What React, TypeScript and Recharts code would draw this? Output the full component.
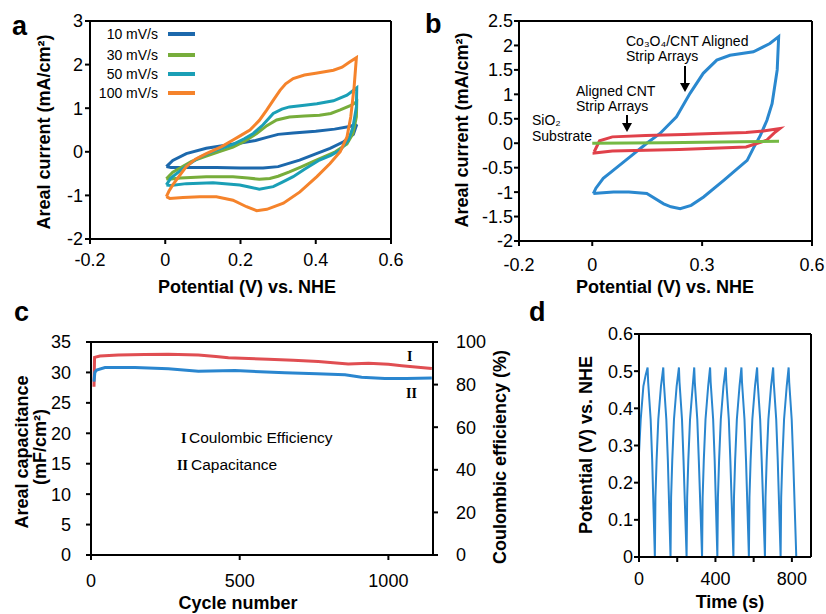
import React from 'react';
import { LineChart, Line, XAxis, YAxis, ReferenceLine } from 'recharts';

const FONT = '"Liberation Sans", Arial, Helvetica, sans-serif';
const SERIF = '"Liberation Serif", "Times New Roman", serif';

// ---------- Panel a : CV at several scan rates ----------
const aTicksX = [-0.2, 0, 0.2, 0.4, 0.6];
const aTicksY = [-2, -1, 0, 1, 2, 3];
const aNames = ['10 mV/s', '30 mV/s', '50 mV/s', '100 mV/s'];

const a10X = [0.003, 0.02, 0.056, 0.109, 0.16, 0.2, 0.24, 0.27, 0.3, 0.34, 0.4, 0.45, 0.49, 0.505, 0.508, 0.5, 0.474, 0.438, 0.4, 0.357, 0.3, 0.26, 0.2, 0.136, 0.06, 0.015, 0.003];
const a10Y = [-0.34, -0.2, -0.04, 0.08, 0.15, 0.2, 0.26, 0.33, 0.4, 0.43, 0.47, 0.52, 0.58, 0.62, 0.6, 0.4, 0.23, 0.08, -0.05, -0.19, -0.34, -0.37, -0.37, -0.36, -0.36, -0.36, -0.34];

const a30X = [0.003, 0.02, 0.038, 0.07, 0.109, 0.15, 0.18, 0.21, 0.243, 0.27, 0.296, 0.33, 0.37, 0.41, 0.44, 0.465, 0.495, 0.509, 0.508, 0.499, 0.483, 0.452, 0.42, 0.394, 0.36, 0.33, 0.3, 0.278, 0.25, 0.22, 0.18, 0.109, 0.04, 0.01, 0.003];
const a30Y = [-0.62, -0.47, -0.38, -0.22, -0.1, 0.02, 0.11, 0.24, 0.42, 0.6, 0.73, 0.8, 0.82, 0.84, 0.88, 0.96, 1.07, 1.15, 0.8, 0.42, 0.18, 0, -0.12, -0.22, -0.35, -0.46, -0.56, -0.61, -0.63, -0.6, -0.57, -0.57, -0.6, -0.63, -0.62];

const a50X = [0.003, 0.015, 0.03, 0.06, 0.09, 0.13, 0.18, 0.21, 0.234, 0.26, 0.287, 0.31, 0.33, 0.37, 0.403, 0.447, 0.483, 0.509, 0.508, 0.499, 0.487, 0.465, 0.44, 0.41, 0.37, 0.34, 0.31, 0.287, 0.25, 0.22, 0.198, 0.127, 0.056, 0.015, 0.003];
const a50Y = [-0.76, -0.6, -0.5, -0.3, -0.13, 0.02, 0.17, 0.3, 0.42, 0.62, 0.88, 0.98, 1.03, 1.07, 1.1, 1.17, 1.3, 1.47, 1.03, 0.57, 0.27, 0.04, -0.08, -0.19, -0.4, -0.57, -0.7, -0.8, -0.86, -0.8, -0.76, -0.71, -0.73, -0.77, -0.76];

const a100X = [0.003, 0.01, 0.02, 0.035, 0.056, 0.08, 0.109, 0.15, 0.18, 0.2, 0.225, 0.25, 0.27, 0.29, 0.305, 0.32, 0.34, 0.37, 0.4, 0.447, 0.47, 0.49, 0.508, 0.502, 0.493, 0.483, 0.465, 0.438, 0.403, 0.358, 0.314, 0.27, 0.243, 0.216, 0.18, 0.136, 0.092, 0.047, 0.012, 0.003];
const a100Y = [-1.03, -0.9, -0.76, -0.58, -0.34, -0.17, -0.04, 0.12, 0.27, 0.37, 0.5, 0.72, 0.96, 1.22, 1.41, 1.56, 1.68, 1.76, 1.8, 1.87, 1.94, 2.06, 2.16, 1.49, 0.8, 0.34, 0, -0.27, -0.57, -0.92, -1.18, -1.32, -1.35, -1.26, -1.11, -1.03, -1.03, -1.05, -1.07, -1.03];

// ---------- Panel b : electrode comparison ----------
const bTicksX = [-0.2, 0, 0.3, 0.6];
const bTicksY = [-2, -1.5, -1, -0.5, 0, 0.5, 1, 1.5, 2, 2.5];

const bCoX = [0.003, 0.01, 0.03, 0.058, 0.103, 0.149, 0.185, 0.23, 0.267, 0.303, 0.34, 0.376, 0.44, 0.485, 0.509, 0.505, 0.491, 0.477, 0.459, 0.44, 0.423, 0.39, 0.359, 0.304, 0.27, 0.24, 0.215, 0.195, 0.149, 0.1, 0.058, 0.02, 0.003];
const bCoY = [-1.03, -0.92, -0.72, -0.55, -0.28, 0, 0.2, 0.54, 1.02, 1.43, 1.7, 1.8, 1.87, 2.04, 2.18, 1.5, 0.81, 0.47, 0.16, -0.1, -0.35, -0.56, -0.76, -1.1, -1.27, -1.34, -1.3, -1.24, -1.03, -1.0, -1.0, -1.02, -1.03];

const bCntX = [0.005, 0.02, 0.055, 0.146, 0.25, 0.33, 0.42, 0.467, 0.512, 0.5, 0.476, 0.42, 0.238, 0.055, 0.005, 0.005];
const bCntY = [-0.18, 0.05, 0.13, 0.16, 0.18, 0.2, 0.22, 0.25, 0.3, 0.23, 0.06, -0.075, -0.13, -0.16, -0.2, -0.18];

const bSiX = [0, 0.1, 0.2, 0.3, 0.4, 0.51];
const bSiY = [0, 0.005, 0.01, 0.02, 0.03, 0.04];

// ---------- Panel c : cycling ----------
const cTicksX = [0, 500, 1000];
const cTicksLeft = [0, 5, 10, 15, 20, 25, 30, 35];
const cTicksRight = [0, 20, 40, 60, 80, 100];
const cEffCycle = [10, 12, 30, 92, 180, 260, 361, 420, 462, 530, 596, 680, 764, 865, 933, 1000, 1045, 1100, 1146];
const cEffValue = [79, 92.8, 93.4, 93.9, 94.1, 94.2, 93.9, 93.2, 92.6, 92.2, 91.9, 91.4, 90.8, 89.7, 90.0, 89.5, 88.9, 88.2, 87.6];
const cCapCycle = [10, 13, 19, 47, 148, 260, 361, 484, 652, 760, 854, 910, 988, 1060, 1146];
const cCapValue = [28.5, 30.0, 30.4, 30.8, 30.8, 30.6, 30.2, 30.3, 29.95, 29.8, 29.6, 29.2, 29.0, 29.0, 29.1];

// ---------- Panel d : galvanostatic charge/discharge ----------
const dTicksX = [0, 200, 400, 600, 800];
const dTickLabelsX = ['0', '', '400', '', '800'];
const dTicksY = [0, 0.1, 0.2, 0.3, 0.4, 0.5, 0.6];
const dTime = [
  0, 9, 23, 35, 45,
  48, 61, 69, 83, 86, 92, 101, 115, 127,
  130, 143, 151, 165, 168, 174, 183, 197, 209,
  212, 225, 233, 249, 252, 258, 267, 281, 289,
  292, 305, 313, 330, 333, 339, 348, 362, 372,
  375, 388, 396, 410, 413, 419, 428, 442, 454,
  457, 470, 478, 494, 497, 503, 512, 526, 536,
  539, 552, 560, 575, 578, 584, 593, 607, 618,
  621, 634, 642, 659, 662, 668, 677, 691, 702,
  705, 718, 726, 741, 744, 750, 759, 773, 783,
  786, 799, 807, 823,
];
const dPotential = [
  0.28, 0.37, 0.46, 0.49, 0.51,
  0.47, 0.37, 0.26, 0, 0.16, 0.26, 0.37, 0.46, 0.51,
  0.47, 0.37, 0.26, 0, 0.16, 0.26, 0.37, 0.46, 0.51,
  0.47, 0.37, 0.26, 0, 0.16, 0.26, 0.37, 0.46, 0.51,
  0.47, 0.37, 0.26, 0, 0.16, 0.26, 0.37, 0.46, 0.51,
  0.47, 0.37, 0.26, 0, 0.16, 0.26, 0.37, 0.46, 0.51,
  0.47, 0.37, 0.26, 0, 0.16, 0.26, 0.37, 0.46, 0.51,
  0.47, 0.37, 0.26, 0, 0.16, 0.26, 0.37, 0.46, 0.51,
  0.47, 0.37, 0.26, 0, 0.16, 0.26, 0.37, 0.46, 0.51,
  0.47, 0.37, 0.26, 0, 0.16, 0.26, 0.37, 0.46, 0.51,
  0.47, 0.37, 0.26, 0,
];

// ---------- styles ----------
const aColors = ['#1c68ac', '#77ad3b', '#1a9fb6', '#f5832b'];
const bColors = { co: '#2a88cf', cnt: '#e0414a', si: '#75b944' };
const cColors = { eff: '#e04e52', cap: '#2a86cf' };
const dColor = '#2a86cf';

const pts = (xs: number[], ys: number[]) => xs.map((x, i) => ({ x, y: ys[i] }));

const axisLine = { stroke: '#000', strokeWidth: 2 };
const tickLine = { stroke: '#000', strokeWidth: 2 };
const tickStyle = { fill: '#000', fontSize: 18, fontFamily: FONT };

const aSeries = [
  { name: aNames[0], data: pts(a10X, a10Y), color: aColors[0] },
  { name: aNames[1], data: pts(a30X, a30Y), color: aColors[1] },
  { name: aNames[2], data: pts(a50X, a50Y), color: aColors[2] },
  { name: aNames[3], data: pts(a100X, a100Y), color: aColors[3] },
];

const legendRowsY = [34, 55, 74, 93];

export default function App() {
  const boldTitle = { fontFamily: FONT, fontWeight: 700, fontSize: 18, fill: '#000' } as const;
  return (
    <div style={{ position: 'absolute', left: 0, top: 0, width: 826, height: 614, background: '#fff', overflow: 'hidden' }}>
      {/* Panel a */}
      <div style={{ position: 'absolute', left: 0, top: 0 }}>
        <LineChart width={413} height={300} margin={{ top: 21, right: 22, bottom: 31, left: 30 }}>
          <XAxis type="number" dataKey="x" domain={[-0.2, 0.6]} ticks={aTicksX} interval={0}
            axisLine={axisLine} tickLine={tickLine} tick={tickStyle} tickSize={5} tickMargin={9} allowDataOverflow />
          <YAxis type="number" dataKey="y" domain={[-2, 3]} ticks={aTicksY} interval={0}
            axisLine={axisLine} tickLine={tickLine} tick={tickStyle} tickSize={5} tickMargin={2} allowDataOverflow />
          <ReferenceLine y={3} stroke="#000" strokeWidth={2} />
          <ReferenceLine x={0.6} stroke="#000" strokeWidth={2} />
          {aSeries.map((s) => (
            <Line key={s.name} name={s.name} data={s.data} dataKey="y" type="linear" stroke={s.color}
              strokeWidth={3} dot={false} isAnimationActive={false} />
          ))}
        </LineChart>
      </div>

      {/* Panel b */}
      <div style={{ position: 'absolute', left: 413, top: 0 }}>
        <LineChart width={413} height={300} margin={{ top: 21, right: 14, bottom: 29, left: 46 }}>
          <XAxis type="number" dataKey="x" domain={[-0.2, 0.6]} ticks={bTicksX} interval={0}
            axisLine={axisLine} tickLine={tickLine} tick={tickStyle} tickSize={5} tickMargin={12} allowDataOverflow />
          <YAxis type="number" dataKey="y" domain={[-2, 2.5]} ticks={bTicksY} interval={0}
            axisLine={axisLine} tickLine={tickLine} tick={tickStyle} tickSize={5} tickMargin={1} allowDataOverflow />
          <ReferenceLine y={2.5} stroke="#000" strokeWidth={2} />
          <ReferenceLine x={0.6} stroke="#000" strokeWidth={2} />
          <Line name="Co3O4/CNT Aligned Strip Arrays" data={pts(bCoX, bCoY)} dataKey="y" type="linear" stroke={bColors.co}
            strokeWidth={3} dot={false} isAnimationActive={false} />
          <Line name="Aligned CNT Strip Arrays" data={pts(bCntX, bCntY)} dataKey="y" type="linear" stroke={bColors.cnt}
            strokeWidth={3} dot={false} isAnimationActive={false} />
          <Line name="SiO2 Substrate" data={pts(bSiX, bSiY)} dataKey="y" type="linear" stroke={bColors.si}
            strokeWidth={3} dot={false} isAnimationActive={false} />
        </LineChart>
      </div>

      {/* Panel c */}
      <div style={{ position: 'absolute', left: 0, top: 300 }}>
        <LineChart width={520} height={314} margin={{ top: 42, right: 27, bottom: 29, left: 31 }}>
          <XAxis type="number" dataKey="x" domain={[0, 1150]} ticks={cTicksX} interval={0}
            axisLine={axisLine} tickLine={tickLine} tick={tickStyle} tickSize={5} tickMargin={14} allowDataOverflow />
          <YAxis yAxisId="left" type="number" dataKey="y" domain={[0, 35]} ticks={cTicksLeft} interval={0}
            axisLine={axisLine} tickLine={tickLine} tick={tickStyle} tickSize={5} tickMargin={15} allowDataOverflow />
          <YAxis yAxisId="right" orientation="right" type="number" dataKey="y" domain={[0, 100]} ticks={cTicksRight} interval={0}
            axisLine={axisLine} tickLine={tickLine} tick={tickStyle} tickSize={5} tickMargin={18} allowDataOverflow />
          <ReferenceLine yAxisId="left" y={35} stroke="#000" strokeWidth={2} />
          <Line yAxisId="right" name="Coulombic Efficiency" data={pts(cEffCycle, cEffValue)} dataKey="y" type="linear"
            stroke={cColors.eff} strokeWidth={3} dot={false} isAnimationActive={false} />
          <Line yAxisId="left" name="Capacitance" data={pts(cCapCycle, cCapValue)} dataKey="y" type="linear"
            stroke={cColors.cap} strokeWidth={3} dot={false} isAnimationActive={false} />
        </LineChart>
      </div>

      {/* Panel d */}
      <div style={{ position: 'absolute', left: 520, top: 300 }}>
        <LineChart width={306} height={314} margin={{ top: 34, right: 15, bottom: 27, left: 59 }}>
          <XAxis type="number" dataKey="x" domain={[0, 900]} ticks={dTicksX} interval={0}
            tickFormatter={(v: number) => dTickLabelsX[dTicksX.indexOf(v)] ?? ''}
            axisLine={axisLine} tickLine={tickLine} tick={tickStyle} tickSize={5} tickMargin={10} allowDataOverflow />
          <YAxis type="number" dataKey="y" domain={[0, 0.6]} ticks={dTicksY} interval={0}
            axisLine={axisLine} tickLine={tickLine} tick={tickStyle} tickSize={5} tickMargin={1} allowDataOverflow />
          <ReferenceLine y={0.6} stroke="#000" strokeWidth={2} />
          <ReferenceLine x={900} stroke="#000" strokeWidth={2} />
          <Line name="Potential" data={pts(dTime, dPotential)} dataKey="y" type="linear" stroke={dColor}
            strokeWidth={2} dot={false} isAnimationActive={false} />
        </LineChart>
      </div>

      {/* Text overlay */}
      <svg width={826} height={614} style={{ position: 'absolute', left: 0, top: 0, pointerEvents: 'none' }}>
        {/* panel letters */}
        <g style={{ fontFamily: FONT, fontWeight: 700, fontSize: 27 }} fill="#000">
          <text x={12} y={35}>a</text>
          <text x={425} y={33}>b</text>
          <text x={14} y={321}>c</text>
          <text x={529} y={321}>d</text>
        </g>

        {/* legend a */}
        {aSeries.map((s, i) => (
          <g key={s.name}>
            <text x={158} y={legendRowsY[i] + 5} textAnchor="end" style={{ fontFamily: FONT, fontSize: 14 }} fill="#000">{s.name}</text>
            <line x1={168} x2={195} y1={legendRowsY[i]} y2={legendRowsY[i]} stroke={s.color} strokeWidth={4} />
          </g>
        ))}

        {/* axis titles a */}
        <text x={247} y={293} textAnchor="middle" style={boldTitle}>Potential (V) vs. NHE</text>
        <text transform="translate(50,132) rotate(-90)" textAnchor="middle" style={boldTitle}>Areal current (mA/cm²)</text>

        {/* axis titles b */}
        <text x={665} y={293} textAnchor="middle" style={boldTitle}>Potential (V) vs. NHE</text>
        <text transform="translate(468,130) rotate(-90)" textAnchor="middle" style={boldTitle}>Areal current (mA/cm²)</text>

        {/* annotations b */}
        <g style={{ fontFamily: FONT, fontSize: 14 }} fill="#000">
          <text x={626} y={46}>Co₃O₄/CNT Aligned</text>
          <text x={626} y={61}>Strip Arrays</text>
          <text x={576} y={96}>Aligned CNT</text>
          <text x={576} y={111}>Strip Arrays</text>
          <text x={532} y={125}>SiO₂</text>
          <text x={532} y={141}>Substrate</text>
        </g>
        <line x1={685} y1={66} x2={685} y2={84} stroke="#000" strokeWidth={2} />
        <polygon points="680,83 690,83 685,92" fill="#000" />
        <line x1={627} y1={115} x2={627} y2={124} stroke="#000" strokeWidth={2} />
        <polygon points="622,123 632,123 627,132" fill="#000" />

        {/* axis titles c */}
        <text x={238} y={609} textAnchor="middle" style={boldTitle}>Cycle number</text>
        <text transform="translate(28,452) rotate(-90)" textAnchor="middle" style={boldTitle}>Areal capacitance</text>
        <text transform="translate(46,447) rotate(-90)" textAnchor="middle" style={boldTitle}>(mF/cm²)</text>
        <text transform="translate(506,457) rotate(-90)" textAnchor="middle" style={boldTitle}>Coulombic efficiency (%)</text>

        {/* annotations c */}
        <g style={{ fontFamily: SERIF, fontWeight: 700, fontSize: 14 }} fill="#000">
          <text x={407} y={361}>I</text>
          <text x={406} y={398}>II</text>
          <text x={181} y={443}>I</text>
          <text x={177} y={470}>II</text>
        </g>
        <g style={{ fontFamily: FONT, fontSize: 15.5 }} fill="#000">
          <text x={189} y={443}>Coulombic Efficiency</text>
          <text x={191} y={470}>Capacitance</text>
        </g>

        {/* axis titles d */}
        <text x={730} y={608} textAnchor="middle" style={boldTitle}>Time (s)</text>
        <text transform="translate(592,445) rotate(-90)" textAnchor="middle" style={boldTitle}>Potential (V) vs. NHE</text>
      </svg>
    </div>
  );
}
